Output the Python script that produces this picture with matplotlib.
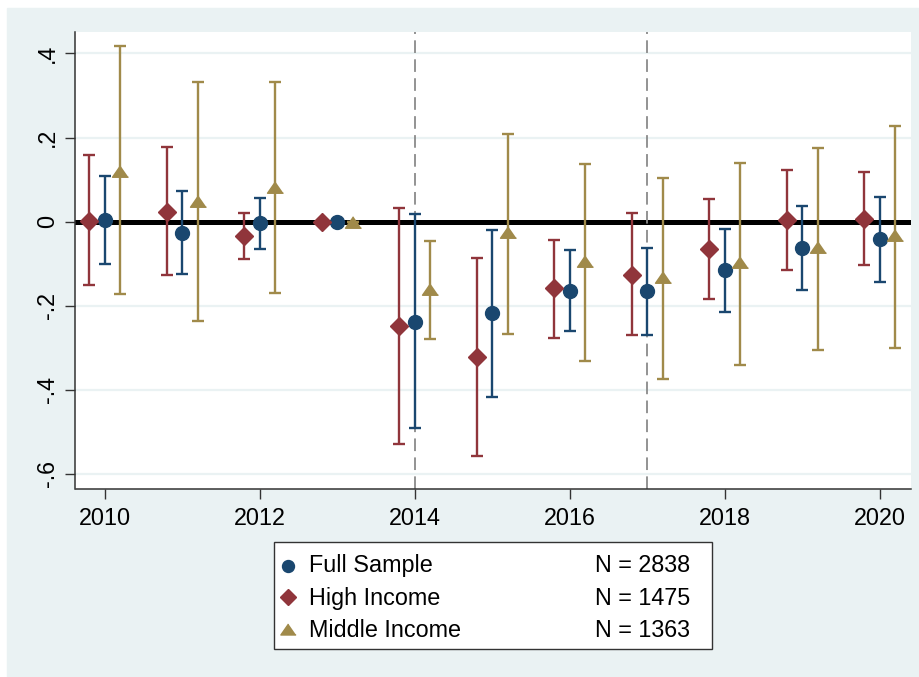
import matplotlib.pyplot as plt
from matplotlib.patches import Rectangle
from matplotlib.lines import Line2D

plt.rcParams['font.family'] = ['Liberation Sans', 'DejaVu Sans']

years = [2010, 2011, 2012, 2013, 2014, 2015, 2016, 2017, 2018, 2019, 2020]

full = [0.004, -0.026, -0.004, 0.0, -0.238, -0.218, -0.164, -0.166, -0.116, -0.063, -0.042]
full_hi = [0.109, 0.072, 0.056, 0.0, 0.018, -0.020, -0.067, -0.063, -0.018, 0.036, 0.059]
full_lo = [-0.100, -0.125, -0.064, 0.0, -0.491, -0.416, -0.261, -0.269, -0.215, -0.162, -0.144]

high = [0.002, 0.024, -0.034, 0.0, -0.248, -0.323, -0.159, -0.127, -0.066, 0.004, 0.006]
high_hi = [0.158, 0.177, 0.021, 0.0, 0.033, -0.087, -0.043, 0.021, 0.054, 0.122, 0.119]
high_lo = [-0.151, -0.128, -0.088, 0.0, -0.530, -0.558, -0.277, -0.269, -0.185, -0.114, -0.104]

mid = [0.121, 0.049, 0.083, 0.0, -0.160, -0.025, -0.093, -0.132, -0.097, -0.061, -0.033]
mid_hi = [0.417, 0.331, 0.331, 0.0, -0.047, 0.208, 0.136, 0.103, 0.140, 0.176, 0.227]
mid_lo = [-0.173, -0.237, -0.170, 0.0, -0.279, -0.267, -0.331, -0.375, -0.342, -0.305, -0.301]

series_names = ['Full Sample', 'High Income', 'Middle Income']
series_n = ['N = 2838', 'N = 1475', 'N = 1363']
event_years = [2014, 2017]

yticks = [0.4, 0.2, 0.0, -0.2, -0.4, -0.6]
ytick_labels = ['.4', '.2', '0', '-.2', '-.4', '-.6']
xticks = [2010, 2012, 2014, 2016, 2018, 2020]

navy = '#1A476F'
maroon = '#90353B'
khaki = '#A08A4A'
bg = '#EAF2F3'
tri = [(0, 0.72), (-1, -0.72), (1, -0.72)]

fig = plt.figure(figsize=(9.2, 6.77), dpi=100)
fig.patches.append(Rectangle((7 / 920, 0), 913 / 920, 669 / 677,
                             transform=fig.transFigure, color=bg, zorder=-10))

ax = fig.add_axes([75.5 / 920, 1 - 489 / 677, (911 - 75.5) / 920, (489 - 32) / 677])
ax.set_xlim(2009.62, 2020.4)
ax.set_ylim(-0.636, 0.451)

for yv in yticks:
    ax.axhline(yv, color=bg, lw=1.6, zorder=0)
ax.axhline(0, color='black', lw=3.6, zorder=1)
for ev in event_years:
    ax.axvline(ev, color='#8A8A8A', lw=1.3, ls=(0, (7, 3.5)), zorder=1)

groups = [
    (full, full_lo, full_hi, 0.0, navy, 'o', 10),
    (high, high_lo, high_hi, -0.2, maroon, 'D', 9.2),
    (mid, mid_lo, mid_hi, 0.2, khaki, tri, 11.5),
]
for vals, lo, hi, off, col, mk, ms in groups:
    xs = [y + off for y in years]
    err = [[v - l for v, l in zip(vals, lo)], [h - v for v, h in zip(vals, hi)]]
    ax.errorbar(xs, vals, yerr=err, fmt='none', ecolor=col, elinewidth=1.7,
                capsize=4, capthick=1.7, zorder=2)
    ax.plot(xs, vals, ls='none', marker=mk, ms=ms, color=col, mec=col, zorder=3)

ax.set_yticks(yticks)
ax.set_yticklabels(ytick_labels, rotation=90, va='center')
ax.set_xticks(xticks)
ax.tick_params(axis='both', labelsize=16.8, length=7, width=1, color='#333333',
               labelcolor='black')
ax.tick_params(axis='y', pad=5)
ax.tick_params(axis='x', pad=6)
for s in ['top', 'right']:
    ax.spines[s].set_visible(False)
for s in ['left', 'bottom']:
    ax.spines[s].set_color('#333333')
    ax.spines[s].set_linewidth(1.1)

# legend box drawn by hand
fig.patches.append(Rectangle((274 / 920, 1 - 649 / 677), 438 / 920, 107 / 677,
                             transform=fig.transFigure, facecolor='white',
                             edgecolor='#333333', lw=1, zorder=5))
marker_rows = [566, 597, 629]
text_rows = [572, 605, 637]
leg_markers = [('o', navy, 8.6), ('D', maroon, 8.2), (tri, khaki, 11)]
for my, ty, name, ntxt, (mk, col, ms) in zip(marker_rows, text_rows, series_names,
                                              series_n, leg_markers):
    fig.lines.append(Line2D([288 / 920], [1 - my / 677], marker=mk, ms=ms, color=col,
                            ls='none', transform=fig.transFigure, zorder=6))
    fy = 1 - ty / 677
    fig.text(309 / 920, fy, name, fontsize=16.8, va='baseline', ha='left', zorder=6)
    fig.text(595 / 920, fy, ntxt, fontsize=16.8, va='baseline', ha='left', zorder=6)

fig.savefig('out.png', dpi=100, facecolor='white')
